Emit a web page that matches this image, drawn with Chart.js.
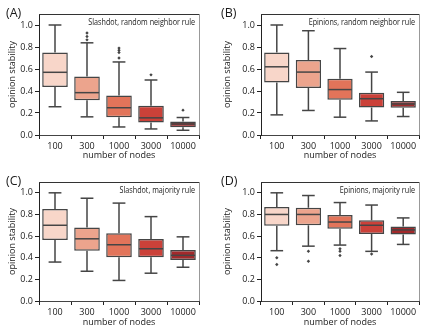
<!DOCTYPE html>
<html>
<head>
<meta charset="utf-8">
<script src="https://cdn.jsdelivr.net/npm/chart.js@4.4.1/dist/chart.umd.min.js"></script>
<style>
  html, body { margin: 0; padding: 0; background: #fff; }
  #wrap { position: relative; width: 430px; height: 335px; }
  .panel { position: absolute; }
</style>
</head>
<body>
<div id="wrap">
  <div class="panel" style="left:0;top:0"><canvas id="cA" width="215" height="168"></canvas></div>
  <div class="panel" style="left:215px;top:0"><canvas id="cB" width="215" height="168"></canvas></div>
  <div class="panel" style="left:0;top:168px"><canvas id="cC" width="215" height="167"></canvas></div>
  <div class="panel" style="left:215px;top:168px"><canvas id="cD" width="215" height="167"></canvas></div>
</div>
<script>
/* ── data ── */
const NODES = ['100', '300', '1000', '3000', '10000'];
const Y_TICKS = [0, 0.2, 0.4, 0.6, 0.8, 1.0];

// (A) Slashdot, random neighbor rule
const A_LOW  = [0.257, 0.165, 0.073, 0.055, 0.043];
const A_Q1   = [0.437, 0.315, 0.162, 0.113, 0.070];
const A_MED  = [0.570, 0.385, 0.248, 0.156, 0.100];
const A_Q3   = [0.750, 0.532, 0.360, 0.266, 0.122];
const A_HIGH = [1.000, 0.838, 0.664, 0.500, 0.159];
const A_OUT  = [[], [0.927, 0.896, 0.865], [0.79, 0.77, 0.75, 0.70], [0.547], [0.226]];

// (B) Epinions, random neighbor rule
const B_LOW  = [0.183, 0.223, 0.162, 0.128, 0.168];
const B_Q1   = [0.477, 0.428, 0.321, 0.250, 0.248];
const B_MED  = [0.620, 0.572, 0.413, 0.330, 0.282];
const B_Q3   = [0.750, 0.682, 0.511, 0.385, 0.309];
const B_HIGH = [1.000, 0.948, 0.786, 0.572, 0.388];
const B_OUT  = [[], [], [], [0.713], []];

// (C) Slashdot, majority rule
const C_LOW  = [0.360, 0.275, 0.190, 0.257, 0.312];
const C_Q1   = [0.565, 0.465, 0.404, 0.404, 0.380];
const C_MED  = [0.700, 0.575, 0.520, 0.483, 0.422];
const C_Q3   = [0.850, 0.680, 0.627, 0.572, 0.471];
const C_HIGH = [1.000, 0.950, 0.905, 0.780, 0.593];
const C_OUT  = [[], [], [], [], []];

// (D) Epinions, majority rule
const D_LOW  = [0.465, 0.507, 0.517, 0.459, 0.523];
const D_Q1   = [0.695, 0.700, 0.667, 0.620, 0.615];
const D_MED  = [0.800, 0.800, 0.730, 0.700, 0.657];
const D_Q3   = [0.870, 0.862, 0.795, 0.746, 0.688];
const D_HIGH = [1.000, 0.975, 0.910, 0.887, 0.768];
const D_OUT  = [[0.40, 0.337], [0.46, 0.367], [0.483, 0.46, 0.42], [0.434], []];

/* ── styling ── */
const BOX_COLORS = ['#f8d6c9', '#eca48d', '#e2745a', '#cb4139', '#a2292b'];
const EDGE = '#454545';
const INK = '#1a1a1a';
const FONT = 'Open Sans';

const PANELS = [
  { id: 'cA', tag: '(A)', title: 'Slashdot, random neighbor rule', left: 39, right: 199, top: 14, bottom: 135,
    low: A_LOW, q1: A_Q1, med: A_MED, q3: A_Q3, high: A_HIGH, out: A_OUT },
  { id: 'cB', tag: '(B)', title: 'Epinions, random neighbor rule', left: 46, right: 204, top: 14, bottom: 135,
    low: B_LOW, q1: B_Q1, med: B_MED, q3: B_Q3, high: B_HIGH, out: B_OUT },
  { id: 'cC', tag: '(C)', title: 'Slashdot, majority rule', left: 39, right: 199, top: 14, bottom: 133,
    low: C_LOW, q1: C_Q1, med: C_MED, q3: C_Q3, high: C_HIGH, out: C_OUT },
  { id: 'cD', tag: '(D)', title: 'Epinions, majority rule', left: 46, right: 204, top: 14, bottom: 133,
    low: D_LOW, q1: D_Q1, med: D_MED, q3: D_Q3, high: D_HIGH, out: D_OUT }
];

// whiskers, caps, medians, frame and in-panel text
function boxPlugin(p) {
  return {
    id: 'box_' + p.id,
    afterDatasetsDraw(chart) {
      const { ctx, scales: { x, y } } = chart;
      const bars = chart.getDatasetMeta(0).data;
      ctx.save();
      ctx.strokeStyle = EDGE;
      ctx.lineWidth = 1.5;
      const seg = (x0, y0, x1, y1) => { ctx.beginPath(); ctx.moveTo(x0, y0); ctx.lineTo(x1, y1); ctx.stroke(); };
      p.low.forEach((lo, i) => {
        const cx = x.getPixelForValue(i);
        const hw = bars[i].width / 2;
        seg(cx, y.getPixelForValue(p.q3[i]), cx, y.getPixelForValue(p.high[i]));
        seg(cx, y.getPixelForValue(p.q1[i]), cx, y.getPixelForValue(lo));
        seg(cx - hw / 2, y.getPixelForValue(p.high[i]), cx + hw / 2, y.getPixelForValue(p.high[i]));
        seg(cx - hw / 2, y.getPixelForValue(lo), cx + hw / 2, y.getPixelForValue(lo));
        seg(cx - hw + 0.75, y.getPixelForValue(p.med[i]), cx + hw - 0.75, y.getPixelForValue(p.med[i]));
      });
      ctx.restore();
    },
    afterDraw(chart) {
      const { ctx, chartArea: a } = chart;
      ctx.save();
      ctx.lineWidth = 1;
      ctx.strokeStyle = '#333';
      ctx.beginPath(); ctx.moveTo(a.left, a.top + 0.5); ctx.lineTo(a.right, a.top + 0.5); ctx.stroke();
      ctx.strokeStyle = '#999';
      ctx.beginPath(); ctx.moveTo(a.right + 0.5, a.top); ctx.lineTo(a.right + 0.5, a.bottom); ctx.stroke();
      ctx.fillStyle = INK;
      ctx.textBaseline = 'middle';
      ctx.font = '9px "' + FONT + '"';
      ctx.textAlign = 'right';
      // the figure's in-panel labels are set in a narrow face
      const w = ctx.measureText(p.title).width * 0.8;
      ctx.fillText(p.title, a.right - 4, a.top + 8.5, w);
      ctx.font = '12.5px "' + FONT + '"';
      ctx.textAlign = 'left';
      ctx.fillText(p.tag, 6, 13);
      ctx.restore();
    }
  };
}

PANELS.forEach(p => {
  const canvas = document.getElementById(p.id);
  const W = canvas.width, H = canvas.height;
  const outliers = [];
  p.out.forEach((vals, i) => vals.forEach(v => outliers.push({ x: NODES[i], y: v })));

  new Chart(canvas, {
    type: 'bar',
    data: {
      labels: NODES,
      datasets: [
        { data: p.q1.map((q, i) => [q, p.q3[i]]), backgroundColor: BOX_COLORS, borderColor: EDGE,
          borderWidth: 1.5, borderSkipped: false, barPercentage: 0.8, categoryPercentage: 1 },
        { type: 'line', data: outliers, showLine: false, pointStyle: 'rectRot', pointRadius: 1.7,
          pointBackgroundColor: EDGE, pointBorderWidth: 0 }
      ]
    },
    options: {
      responsive: false,
      animation: false,
      layout: { padding: { left: 0, right: W - p.right, top: p.top, bottom: 0 } },
      plugins: { legend: { display: false }, tooltip: { enabled: false } },
      scales: {
        x: {
          offset: true,
          afterFit: s => { s.height = H - p.bottom; },
          grid: { drawOnChartArea: false, tickLength: 4, tickColor: '#222' },
          border: { color: '#444', width: 1 },
          ticks: { color: INK, font: { family: FONT, size: 9 }, padding: 2, maxRotation: 0 },
          title: { display: true, text: 'number of nodes', color: INK, font: { family: FONT, size: 9 }, padding: { top: 0, bottom: 7 } }
        },
        y: {
          min: 0, max: 1.1,
          afterFit: s => { s.width = p.left; },
          afterBuildTicks: s => { s.ticks = Y_TICKS.map(v => ({ value: v })); },
          grid: { drawOnChartArea: false, tickLength: 4, tickColor: '#222' },
          border: { color: '#222', width: 1 },
          ticks: { color: INK, font: { family: FONT, size: 9 }, padding: 2, callback: v => v.toFixed(1) },
          title: { display: true, text: 'opinion stability', color: INK, font: { family: FONT, size: 9 }, padding: { top: 7.5, bottom: 0 } }
        }
      }
    },
    plugins: [boxPlugin(p)]
  });
});
</script>
</body>
</html>
